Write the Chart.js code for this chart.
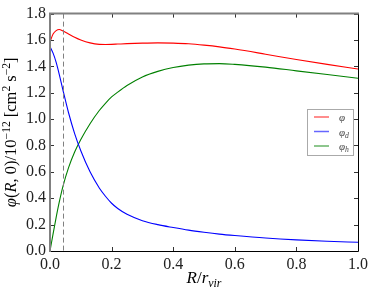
<!DOCTYPE html>
<html>
<head>
<meta charset="utf-8">
<script src="https://cdn.jsdelivr.net/npm/chart.js"></script>
<style>
html,body{margin:0;padding:0;background:#fff;}
</style>
</head>
<body>
<canvas id="myChart" width="374" height="296"></canvas>
<script>
// R / r_vir sample positions
const r_values = [0, 0.01, 0.02, 0.03, 0.042, 0.06, 0.08, 0.1, 0.13, 0.16, 0.18, 0.2, 0.22, 0.25, 0.3, 0.35, 0.4, 0.45, 0.5, 0.55, 0.6, 0.7, 0.8, 0.9, 1.0];
// potentials, units of 10^-12 cm^2 s^-2
const phi_total = [1.585, 1.645, 1.671, 1.679, 1.668, 1.646, 1.621, 1.6, 1.578, 1.567, 1.566, 1.567, 1.569, 1.572, 1.576, 1.578, 1.576, 1.571, 1.561, 1.548, 1.531, 1.492, 1.452, 1.415, 1.38];
const phi_disk = [1.55, 1.50, 1.43, 1.34, 1.22, 1.05, 0.89, 0.76, 0.60, 0.478, 0.415, 0.362, 0.322, 0.278, 0.23, 0.20, 0.178, 0.158, 0.142, 0.128, 0.117, 0.098, 0.084, 0.074, 0.066];
const phi_halo = [0, 0.13, 0.255, 0.37, 0.49, 0.63, 0.75, 0.845, 0.965, 1.065, 1.12, 1.168, 1.205, 1.255, 1.32, 1.362, 1.391, 1.409, 1.419, 1.421, 1.415, 1.394, 1.366, 1.338, 1.31];
const x_ticks = [0, 0.2, 0.4, 0.6, 0.8, 1.0];
const y_ticks = [0, 0.2, 0.4, 0.6, 0.8, 1.0, 1.2, 1.4, 1.6, 1.8];
const dashed_x = 0.042;

const serif = "'Liberation Serif', 'DejaVu Serif', serif";

function pts(ys){
	return r_values.map((x,i)=>({x:x, y:ys[i]}));
}

// draws a list of text runs, with italic / superscript / subscript
function drawRuns(ctx, runs, x, y, size, center){
	const widths = runs.map((r)=>{
		const s = (r.sup||r.sub) ? size*0.7 : size;
		ctx.font = (r.it ? "italic " : "") + s + "px " + serif;
		return ctx.measureText(r.t).width;
	});
	const total = widths.reduce((a,b)=>a+b,0);
	let cx = center ? x - total/2 : x;
	runs.forEach((r,i)=>{
		const s = (r.sup||r.sub) ? size*0.7 : size;
		ctx.font = (r.it ? "italic " : "") + s + "px " + serif;
		let dy = 0;
		if(r.sup) dy = -size*0.38;
		if(r.sub) dy = size*0.22;
		ctx.fillText(r.t, cx, y+dy);
		cx += widths[i];
	});
}

const extras = {
	id: 'extras',
	afterDatasetsDraw(chart){
		const ctx = chart.ctx;
		const a = chart.chartArea;
		const xs = chart.scales.x, ys = chart.scales.y;
		ctx.save();
		// dashed vertical line
		const dx = Math.round(xs.getPixelForValue(dashed_x))+0.5;
		ctx.strokeStyle = '#808080';
		ctx.lineWidth = 1;
		ctx.setLineDash([5,3]);
		ctx.beginPath(); ctx.moveTo(dx,a.top); ctx.lineTo(dx,a.bottom); ctx.stroke();
		ctx.setLineDash([]);
		// inward ticks
		ctx.strokeStyle = '#333';
		ctx.lineWidth = 1;
		ctx.beginPath();
		x_ticks.forEach((v)=>{
			const p = Math.round(xs.getPixelForValue(v))+0.5;
			ctx.moveTo(p,a.bottom); ctx.lineTo(p,a.bottom-4);
			ctx.moveTo(p,a.top); ctx.lineTo(p,a.top+4);
		});
		y_ticks.forEach((v)=>{
			const p = Math.round(ys.getPixelForValue(v))+0.5;
			ctx.moveTo(a.left,p); ctx.lineTo(a.left+4,p);
			ctx.moveTo(a.right,p); ctx.lineTo(a.right-4,p);
		});
		ctx.stroke();
		// frame: left/top grey, bottom/right black
		ctx.strokeStyle = '#000';
		ctx.lineWidth = 1;
		ctx.beginPath();
		ctx.moveTo(a.left, a.bottom+0.5); ctx.lineTo(a.right+0.5, a.bottom+0.5);
		ctx.lineTo(a.right+0.5, a.top);
		ctx.stroke();
		ctx.strokeStyle = '#808080';
		ctx.lineWidth = 2;
		ctx.beginPath();
		ctx.moveTo(a.left, a.bottom+1); ctx.lineTo(a.left, a.top); ctx.lineTo(a.right+1, a.top);
		ctx.stroke();

		// legend
		const bx = 307.5, by = 109.5, bw = 46, bh = 46;
		ctx.fillStyle = '#fff';
		ctx.fillRect(bx,by,bw,bh);
		ctx.strokeStyle = '#aaa';
		ctx.lineWidth = 1;
		ctx.strokeRect(bx,by,bw,bh);
		ctx.textBaseline = 'alphabetic';
		chart.data.datasets.forEach((ds,i)=>{
			const ly = 117 + i*14.5;
			ctx.globalAlpha = 0.6;
			ctx.strokeStyle = ds.borderColor;
			ctx.lineWidth = 1.5;
			ctx.beginPath(); ctx.moveTo(314,ly); ctx.lineTo(329,ly); ctx.stroke();
			ctx.globalAlpha = 0.75;
			ctx.fillStyle = '#000';
			drawRuns(ctx, ds.legendRuns, 339, ly+4, 11, false);
			ctx.globalAlpha = 1;
		});

		// axis titles
		ctx.fillStyle = '#000';
		ctx.textBaseline = 'alphabetic';
		drawRuns(ctx, [{t:'R',it:true},{t:'/'},{t:'r',it:true},{t:'vir',it:true,sub:true}], (a.left+a.right)/2, 283, 17, true);
		ctx.translate(16, (a.top+a.bottom)/2);
		ctx.rotate(-Math.PI/2);
		drawRuns(ctx, [{t:'φ',it:true},{t:'('},{t:'R',it:true},{t:', 0)/10'},{t:'−12',sup:true},{t:' [cm'},{t:'2',sup:true},{t:' s'},{t:'−2',sup:true},{t:']'}], 0, 0, 16.5, true);
		ctx.restore();
	}
};

const config = {
	type: 'line',
	data: {
		datasets: [
			{label:'φ', legendRuns:[{t:'φ',it:true}], data:pts(phi_total), borderColor:'#ff0000'},
			{label:'φd', legendRuns:[{t:'φ',it:true},{t:'d',it:true,sub:true}], data:pts(phi_disk), borderColor:'#0000ff'},
			{label:'φh', legendRuns:[{t:'φ',it:true},{t:'h',it:true,sub:true}], data:pts(phi_halo), borderColor:'#008000'}
		].map((d)=>Object.assign(d,{borderWidth:1.1, pointRadius:0, cubicInterpolationMode:'monotone', fill:false}))
	},
	options: {
		responsive: false,
		animation: false,
		layout: {padding:{top:13, right:16, left:0, bottom:0}},
		plugins: {legend:{display:false}, tooltip:{enabled:false}},
		scales: {
			x: {
				type: 'linear', min: 0, max: 1,
				afterFit: (s)=>{ s.height = 45; },
				afterBuildTicks: (s)=>{ s.ticks = x_ticks.map((v)=>({value:v})); },
				grid: {display:false, drawTicks:false},
				border: {display:false},
				ticks: {padding:4, color:'#222', font:{family:serif, size:16}, callback:(v)=>v.toFixed(1)}
			},
			y: {
				min: 0, max: 1.8,
				afterFit: (s)=>{ s.width = 50; },
				afterBuildTicks: (s)=>{ s.ticks = y_ticks.map((v)=>({value:v})); },
				grid: {display:false, drawTicks:false},
				border: {display:false},
				ticks: {padding:4, color:'#222', font:{family:serif, size:16}, callback:(v)=>v.toFixed(1)}
			}
		}
	},
	plugins: [extras]
};

const myChart = new Chart(document.getElementById('myChart'), config);
</script>
</body>
</html>
